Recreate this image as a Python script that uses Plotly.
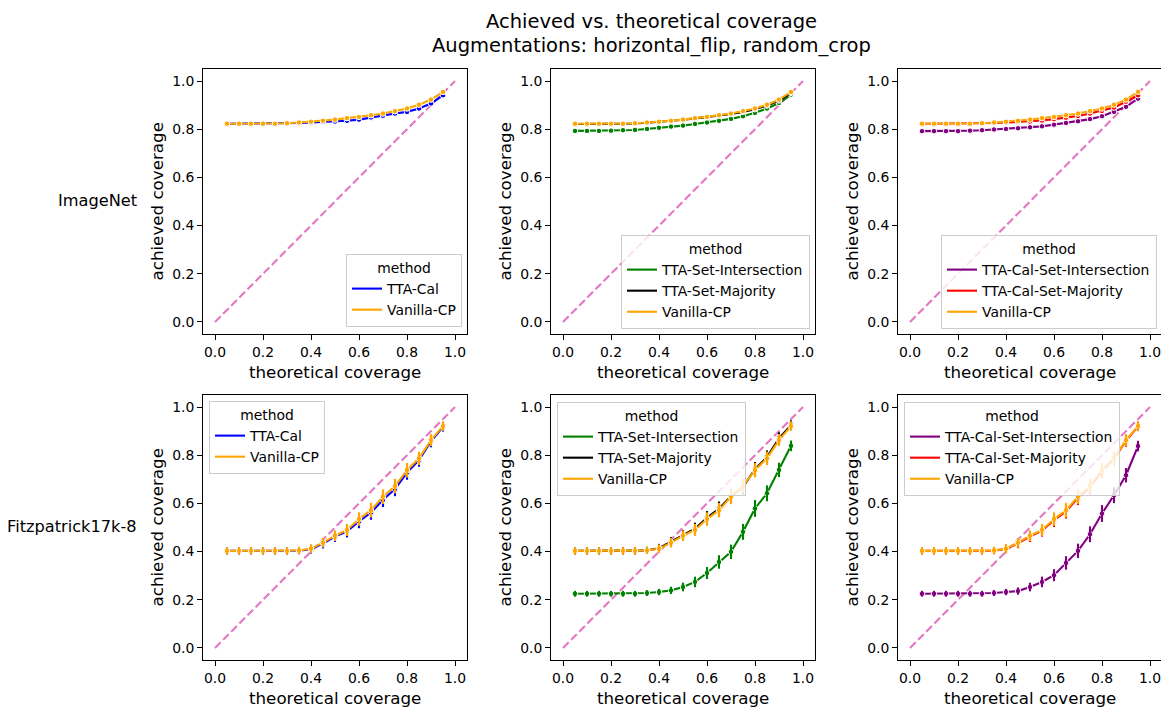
import plotly.graph_objects as go

W, H = 1161, 709

theoretical = [0.05, 0.10, 0.15, 0.20, 0.25, 0.30, 0.35, 0.40, 0.45, 0.50,
               0.55, 0.60, 0.65, 0.70, 0.75, 0.80, 0.85, 0.90, 0.95]
tick_vals = [0.0, 0.2, 0.4, 0.6, 0.8, 1.0]
tick_text = ["0.0", "0.2", "0.4", "0.6", "0.8", "1.0"]
datasets = ["ImageNet", "Fitzpatrick17k-8"]
diag = [0.0, 1.0]

# ImageNet achieved coverage
in_vanilla = [0.823, 0.823, 0.823, 0.823, 0.823, 0.825, 0.828, 0.831, 0.835, 0.840,
              0.846, 0.851, 0.858, 0.865, 0.875, 0.886, 0.902, 0.923, 0.955]
in_tta_cal = [0.823, 0.823, 0.823, 0.823, 0.823, 0.824, 0.826, 0.828, 0.830, 0.832,
              0.835, 0.840, 0.849, 0.856, 0.865, 0.872, 0.886, 0.907, 0.941]
in_set_inter = [0.793, 0.793, 0.793, 0.794, 0.796, 0.797, 0.801, 0.806, 0.811, 0.815,
                0.822, 0.828, 0.835, 0.843, 0.854, 0.868, 0.886, 0.909, 0.944]
in_set_major = [0.822, 0.822, 0.822, 0.822, 0.822, 0.824, 0.827, 0.830, 0.834, 0.839,
                0.845, 0.850, 0.856, 0.863, 0.872, 0.883, 0.898, 0.919, 0.951]
in_cal_inter = [0.792, 0.792, 0.792, 0.792, 0.794, 0.796, 0.799, 0.801, 0.804, 0.808,
                0.812, 0.819, 0.826, 0.833, 0.842, 0.854, 0.872, 0.893, 0.927]
in_cal_major = [0.823, 0.823, 0.823, 0.823, 0.823, 0.824, 0.826, 0.828, 0.830, 0.832,
                0.836, 0.842, 0.848, 0.855, 0.865, 0.876, 0.890, 0.914, 0.941]

# Fitzpatrick17k-8 achieved coverage
fz_vanilla = [0.403, 0.403, 0.403, 0.403, 0.403, 0.403, 0.405, 0.412, 0.437, 0.466,
              0.490, 0.535, 0.572, 0.628, 0.672, 0.738, 0.787, 0.863, 0.921]
fz_tta_cal = [0.403, 0.403, 0.403, 0.403, 0.403, 0.403, 0.404, 0.410, 0.433, 0.462,
              0.484, 0.525, 0.562, 0.615, 0.660, 0.728, 0.780, 0.858, 0.918]
fz_set_inter = [0.225, 0.225, 0.225, 0.225, 0.225, 0.225, 0.228, 0.232, 0.239, 0.253,
                0.274, 0.311, 0.357, 0.399, 0.482, 0.579, 0.642, 0.739, 0.839]
fz_set_major = [0.403, 0.403, 0.403, 0.403, 0.403, 0.403, 0.405, 0.414, 0.440, 0.468,
                0.495, 0.540, 0.578, 0.630, 0.668, 0.742, 0.792, 0.870, 0.925]
fz_cal_inter = [0.225, 0.225, 0.225, 0.225, 0.225, 0.225, 0.228, 0.232, 0.236, 0.253,
                0.274, 0.302, 0.353, 0.403, 0.472, 0.558, 0.634, 0.717, 0.838]
fz_cal_major = [0.403, 0.403, 0.403, 0.403, 0.403, 0.403, 0.404, 0.411, 0.434, 0.462,
                0.487, 0.530, 0.567, 0.623, 0.668, 0.735, 0.785, 0.860, 0.920]

# Fitzpatrick17k-8 spread (half-length of error bars)
fz_err_upper = [0.015, 0.015, 0.015, 0.015, 0.015, 0.015, 0.015, 0.018, 0.020, 0.022,
                0.025, 0.028, 0.030, 0.030, 0.030, 0.030, 0.028, 0.025, 0.020]
fz_err_lower = [0.012, 0.012, 0.012, 0.012, 0.012, 0.012, 0.012, 0.013, 0.015, 0.018,
                0.022, 0.025, 0.028, 0.030, 0.033, 0.035, 0.033, 0.030, 0.022]

colors = {
    "TTA-Cal": "blue",
    "Vanilla-CP": "orange",
    "TTA-Set-Intersection": "green",
    "TTA-Set-Majority": "black",
    "TTA-Cal-Set-Intersection": "purple",
    "TTA-Cal-Set-Majority": "red",
}

panels = [
    (0, 0, [("TTA-Cal", in_tta_cal, None), ("Vanilla-CP", in_vanilla, None)]),
    (0, 1, [("TTA-Set-Intersection", in_set_inter, None), ("TTA-Set-Majority", in_set_major, None),
            ("Vanilla-CP", in_vanilla, None)]),
    (0, 2, [("TTA-Cal-Set-Intersection", in_cal_inter, None), ("TTA-Cal-Set-Majority", in_cal_major, None),
            ("Vanilla-CP", in_vanilla, None)]),
    (1, 0, [("TTA-Cal", fz_tta_cal, fz_err_upper), ("Vanilla-CP", fz_vanilla, fz_err_upper)]),
    (1, 1, [("TTA-Set-Intersection", fz_set_inter, fz_err_lower), ("TTA-Set-Majority", fz_set_major, fz_err_upper),
            ("Vanilla-CP", fz_vanilla, fz_err_upper)]),
    (1, 2, [("TTA-Cal-Set-Intersection", fz_cal_inter, fz_err_lower), ("TTA-Cal-Set-Majority", fz_cal_major, fz_err_upper),
            ("Vanilla-CP", fz_vanilla, fz_err_upper)]),
]

FONT = "DejaVu Sans"
# pixel layout
col_px = [(203, 467), (551, 815), (898, 1161)]
row_px = [(69, 334), (395, 660)]
# legend anchors: (x px, y px, xanchor, yanchor)
legend_pos = [
    (462, 327, "right", "bottom"),
    (810, 329, "right", "bottom"),
    (1157, 329, "right", "bottom"),
    (209, 401, "left", "top"),
    (557, 402, "left", "top"),
    (904, 402, "left", "top"),
]

def fx(px):
    return px / W

def fy(py):
    return 1 - py / H

fig = go.Figure()
layout = {}
annotations = []

for i, (r, c, series) in enumerate(panels):
    ax = "" if i == 0 else str(i + 1)
    xa, ya = "x" + ax, "y" + ax
    leg = "legend" if i == 0 else "legend" + str(i + 1)
    x0, x1 = col_px[c]
    y0, y1 = row_px[r]
    xr_end = -0.05 + (x1 - x0) / 240.0
    layout["xaxis" + ax] = dict(
        domain=[fx(x0), fx(x1)], anchor=ya, range=[-0.05, min(1.05, xr_end)],
        tickvals=tick_vals, ticktext=tick_text, ticks="outside", ticklen=5,
        tickwidth=1, tickcolor="black", showline=True, linecolor="black",
        linewidth=1, mirror=True, showgrid=False, zeroline=False,
        ticklabeloverflow="allow",
        tickfont=dict(family=FONT, size=13.9, color="black"),
    )
    layout["yaxis" + ax] = dict(
        domain=[fy(y1), fy(y0)], anchor=xa, range=[-0.05, 1.05],
        tickvals=tick_vals, ticktext=tick_text, ticks="outside", ticklen=5,
        tickwidth=1, tickcolor="black", showline=True, linecolor="black",
        linewidth=1, mirror=True, showgrid=False, zeroline=False,
        ticklabeloverflow="allow",
        tickfont=dict(family=FONT, size=13.9, color="black"),
    )
    # identity line
    fig.add_trace(go.Scatter(
        x=diag, y=diag, mode="lines", xaxis=xa, yaxis=ya, showlegend=False,
        line=dict(color="#e377c2", width=2.1, dash="8px,3.5px"), hoverinfo="skip",
    ))
    for name, vals, err in series:
        col = colors[name]
        fig.add_trace(go.Scatter(
            x=theoretical, y=vals, mode="lines", name=name, xaxis=xa, yaxis=ya,
            line=dict(color=col, width=2.1), legend=leg,
        ))
        fig.add_trace(go.Scatter(
            x=theoretical, y=vals, mode="markers", xaxis=xa, yaxis=ya, showlegend=False,
            marker=dict(color=col, size=5.5, line=dict(color="white", width=1)),
        ))
        if err is not None:
            fig.add_trace(go.Scatter(
                x=theoretical, y=vals, mode="markers", xaxis=xa, yaxis=ya, showlegend=False,
                marker=dict(color=col, size=1, opacity=0),
                error_y=dict(type="data", array=err, visible=True, color=col,
                             thickness=2.1, width=0),
            ))
    lx, ly, xan, yan = legend_pos[i]
    layout[leg] = dict(
        x=fx(lx), y=fy(ly), xanchor=xan, yanchor=yan, xref="paper", yref="paper",
        bgcolor="rgba(255,255,255,0.8)", bordercolor="#cccccc", borderwidth=1,
        font=dict(family=FONT, size=13.9, color="black"),
        title=dict(text="method", side="top center", font=dict(family=FONT, size=13.9, color="black")),
        itemwidth=30, tracegroupgap=0,
    )
    # axis titles
    annotations.append(dict(
        text="theoretical coverage", x=fx((x0 + x1) / 2 if c < 2 else 1030), y=fy(372 if r == 0 else 698),
        xref="paper", yref="paper", showarrow=False, xanchor="center", yanchor="middle",
        font=dict(family=FONT, size=16.7, color="black"),
    ))
    annotations.append(dict(
        text="achieved coverage", x=fx(x0 - 47), y=fy((y0 + y1) / 2),
        xref="paper", yref="paper", showarrow=False, xanchor="center", yanchor="middle",
        textangle=-90, font=dict(family=FONT, size=16.7, color="black"),
    ))

# row labels
for r, dname in enumerate(datasets):
    y0, y1 = row_px[r]
    annotations.append(dict(
        text=dname, x=fx(139), y=fy((y0 + y1) / 2 - 1), xref="paper", yref="paper",
        showarrow=False, xanchor="right", yanchor="middle",
        font=dict(family=FONT, size=16.2, color="black"),
    ))

# suptitle
annotations.append(dict(
    text="Achieved vs. theoretical coverage", x=fx(651), y=fy(22), xref="paper", yref="paper",
    showarrow=False, xanchor="center", yanchor="middle",
    font=dict(family=FONT, size=19.5, color="black"),
))
annotations.append(dict(
    text="Augmentations: horizontal_flip, random_crop", x=fx(651), y=fy(45), xref="paper", yref="paper",
    showarrow=False, xanchor="center", yanchor="middle",
    font=dict(family=FONT, size=19.5, color="black"),
))

fig.update_layout(
    width=W, height=H, margin=dict(l=0, r=0, t=0, b=0),
    paper_bgcolor="white", plot_bgcolor="white",
    font=dict(family=FONT, color="black"),
    annotations=annotations, hovermode=False,
    **layout,
)

fig.write_html("out.html")
